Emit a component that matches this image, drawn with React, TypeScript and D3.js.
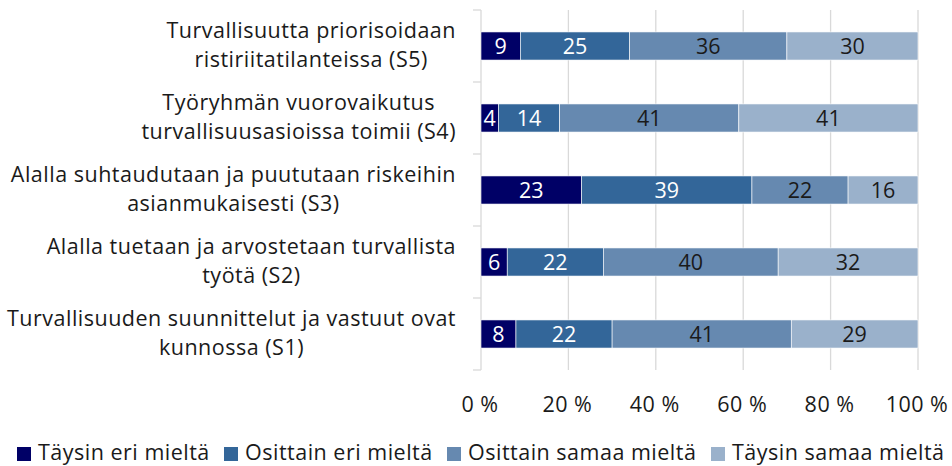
import React, { useEffect, useRef } from 'react';
import * as d3 from 'd3';

const categories = ['S5', 'S4', 'S3', 'S2', 'S1'];
const categoryLabels = [
  ['Turvallisuutta priorisoidaan', 'ristiriitatilanteissa (S5)'],
  ['Työryhmän vuorovaikutus', 'turvallisuusasioissa toimii (S4)'],
  ['Alalla suhtaudutaan ja puututaan riskeihin', 'asianmukaisesti (S3)'],
  ['Alalla tuetaan ja arvostetaan turvallista', 'työtä (S2)'],
  ['Turvallisuuden suunnittelut ja vastuut ovat', 'kunnossa (S1)'],
];
const seriesNames = ['Täysin eri mieltä', 'Osittain eri mieltä', 'Osittain samaa mieltä', 'Täysin samaa mieltä'];
const tayEri = [9, 4, 23, 6, 8];
const osEri = [25, 14, 39, 22, 22];
const osSamaa = [36, 41, 22, 40, 41];
const taySamaa = [30, 41, 16, 32, 29];
const xTicks = [0, 20, 40, 60, 80, 100];

const colors = ['#000066', '#336699', '#6689b0', '#9ab1cb'];
const labelColors = ['#ffffff', '#ffffff', '#1a1a1a', '#1a1a1a'];
const FONT = '"Open Sans", sans-serif';
const FS = 21.5;
const LS = 0.5;

const W = 952;
const H = 466;

const App: React.FC = () => {
  const ref = useRef<SVGSVGElement | null>(null);

  useEffect(() => {
    if (!ref.current) return;
    const svg = d3.select(ref.current);
    svg.selectAll('*').remove();

    const x = d3.scaleLinear().domain([0, 100]).range([481, 918]);
    const y = d3.scaleBand<string>().domain(categories).range([10, 370]).paddingInner(0.61).paddingOuter(0.305);

    const series = [tayEri, osEri, osSamaa, taySamaa];
    const rows = categories.map((c, i) => {
      const r: any = { cat: c };
      series.forEach((s, j) => (r['k' + j] = s[i]));
      return r;
    });
    const stacked = d3.stack<any>().keys(['k0', 'k1', 'k2', 'k3'])(rows);

    // gridlines
    svg
      .append('g')
      .selectAll('line')
      .data(xTicks.slice(1))
      .join('line')
      .attr('x1', (d) => x(d))
      .attr('x2', (d) => x(d))
      .attr('y1', 10)
      .attr('y2', 370)
      .attr('stroke', '#d9d9d9')
      .attr('stroke-width', 1.3);

    // left axis with ticks between categories
    const yAxis = svg.append('g');
    yAxis
      .append('line')
      .attr('x1', 481)
      .attr('x2', 481)
      .attr('y1', 10)
      .attr('y2', 370)
      .attr('stroke', '#d9d9d9')
      .attr('stroke-width', 1.3);
    const edges = d3.range(categories.length + 1).map((i) => 10 + i * y.step());
    yAxis
      .selectAll('line.tick')
      .data(edges)
      .join('line')
      .attr('class', 'tick')
      .attr('x1', 473)
      .attr('x2', 481)
      .attr('y1', (d) => d)
      .attr('y2', (d) => d)
      .attr('stroke', '#d9d9d9')
      .attr('stroke-width', 1.3);

    // bars + value labels
    stacked.forEach((layer, j) => {
      const g = svg.append('g');
      g.selectAll('rect')
        .data(layer)
        .join('rect')
        .attr('x', (d) => x(d[0]))
        .attr('width', (d) => x(d[1]) - x(d[0]))
        .attr('y', (d) => y(d.data.cat)!)
        .attr('height', y.bandwidth())
        .attr('fill', colors[j])
        .attr('stroke', '#ffffff')
        .attr('stroke-width', 0.6);
      g.selectAll('text')
        .data(layer)
        .join('text')
        .attr('x', (d) => (x(d[0]) + x(d[1])) / 2)
        .attr('y', (d) => y(d.data.cat)! + y.bandwidth() / 2 + 7.5)
        .attr('text-anchor', 'middle')
        .attr('font-family', FONT)
        .attr('font-size', FS)
        .attr('fill', labelColors[j])
        .text((d) => d[1] - d[0]);
    });

    // category labels: lines centered, block right-aligned to axis
    categories.forEach((c, i) => {
      const cy = y(c)! + y.bandwidth() / 2;
      const g = svg.append('g');
      const texts = g
        .selectAll('text')
        .data(categoryLabels[i])
        .join('text')
        .attr('y', (_, k) => cy - 8 + k * 29)
        .attr('font-family', FONT)
        .attr('font-size', FS)
        .attr('letter-spacing', LS)
        .attr('fill', '#1a1a1a')
        .attr('text-anchor', 'middle')
        .text((d) => d);
      let maxW = 0;
      texts.each(function () {
        maxW = Math.max(maxW, (this as SVGTextElement).getComputedTextLength());
      });
      texts.attr('x', 456 - maxW / 2);
    });

    // x tick labels
    svg
      .append('g')
      .selectAll('text')
      .data(xTicks)
      .join('text')
      .attr('x', (d) => x(d) - 1)
      .attr('y', 412)
      .attr('text-anchor', 'middle')
      .attr('font-family', FONT)
      .attr('font-size', FS)
      .attr('letter-spacing', LS)
      .attr('fill', '#1a1a1a')
      .text((d) => `${d} %`);

    // legend
    const legendX = [17, 224, 447, 711];
    const lg = svg.append('g');
    seriesNames.forEach((name, j) => {
      lg.append('rect')
        .attr('x', legendX[j])
        .attr('y', 447)
        .attr('width', 14)
        .attr('height', 14)
        .attr('fill', colors[j]);
      lg.append('text')
        .attr('x', legendX[j] + 21)
        .attr('y', 460)
        .attr('font-family', FONT)
        .attr('font-size', FS)
        .attr('letter-spacing', LS)
        .attr('fill', '#1a1a1a')
        .text(name);
    });
  }, []);

  return (
    <svg
      ref={ref}
      width={W}
      height={H}
      style={{ position: 'absolute', left: 0, top: 0, background: '#fff' }}
    />
  );
};

export default App;
